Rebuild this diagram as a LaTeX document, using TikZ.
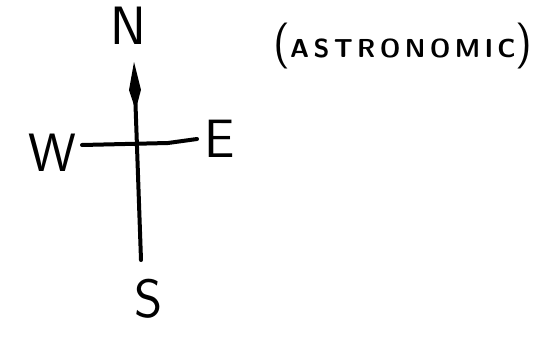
\documentclass[tikz,border=0pt]{standalone}
\usetikzlibrary{arrows.meta}
\tikzset{
  dirlabel/.style={font=\fontsize{54}{54}\selectfont\sffamily, inner sep=0pt},
  axisline/.style={line width=4pt, line cap=round}
}
\begin{document}
\begin{tikzpicture}[x=1pt, y=-1pt]
	\useasboundingbox (0,0) rectangle (539,340);
	%Points cardinaux
	\node[dirlabel] (N) at (128,26) {N};
	\node[dirlabel, anchor=east] (W) at (77,153) {W};
	\node[dirlabel, anchor=west] (E) at (204,139) {E};
	\node[dirlabel] (S) at (149,299) {S};
	\node[inner sep=0pt] (astro) at (403,46) {\sffamily{\fontsize{46}{46}\selectfont(}{\fontsize{26}{26}\selectfont\bfseries A\,S\,T\,R\,O\,N\,O\,M\,I\,C}{\fontsize{46}{46}\selectfont)}};
	%Extremites des axes
	\coordinate (top) at (134,62);
	\coordinate (bot) at (141,260);
	\coordinate (lft) at (82,145);
	\coordinate (mid) at (168,143);
	\coordinate (rgt) at (197,139);
	%Axes
	\draw[axisline, -{Kite[length=48pt, width=12pt, inset=20pt]}] (bot) -- (top);
	\draw[axisline] (lft) -- (mid) -- (rgt);
\end{tikzpicture}
\end{document}
